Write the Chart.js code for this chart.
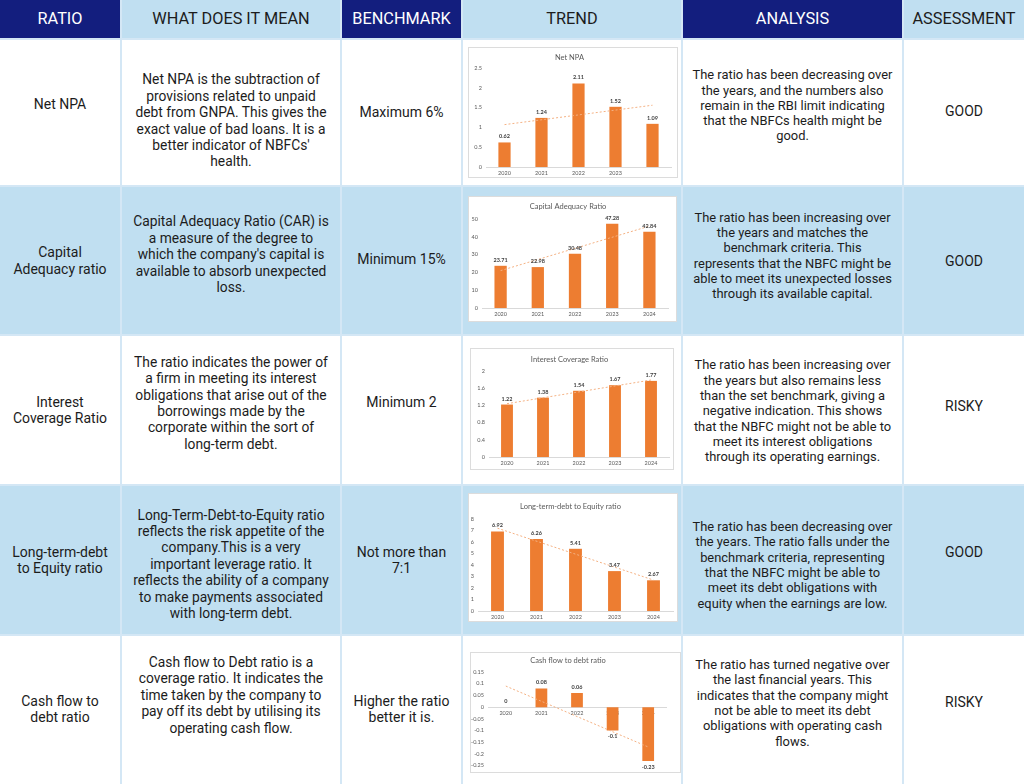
<!DOCTYPE html>
<html>
<head>
<meta charset="utf-8">
<script src="https://cdn.jsdelivr.net/npm/chart.js@4"></script>
<style>
  body { margin: 0; width: 1024px; height: 784px; overflow: hidden; background: #d4e7f5; font-family: Roboto, sans-serif; }
  .cell { position: absolute; display: flex; align-items: center; justify-content: center; text-align: center; color: #1c1c1c; white-space: pre-line; box-sizing: border-box; }
  .cell span { display: block; }
  .navy { background: #131e7e; color: #fff; }
  .light { background: #c0dff1; }
  .white { background: #fff; }
  .box { position: absolute; background: #fff; border: 1px solid #dcdcdc; box-sizing: border-box; }
  .box canvas { position: absolute; left: -1px; top: -1px; }
</style>
</head>
<body>
<script>
// table text
const headers = ['RATIO', 'WHAT DOES IT MEAN', 'BENCHMARK', 'TREND', 'ANALYSIS', 'ASSESSMENT'];
const ratioNames = ['Net NPA', 'Capital\nAdequacy ratio', 'Interest\nCoverage Ratio', 'Long-term-debt\nto Equity ratio', 'Cash flow to\ndebt ratio'];
const meanings = [
  "Net NPA is the subtraction of\nprovisions related to unpaid\ndebt from GNPA. This gives the\nexact value of bad loans. It is a\nbetter indicator of NBFCs'\nhealth.",
  "Capital Adequacy Ratio (CAR) is\na measure of the degree to\nwhich the company's capital is\navailable to absorb unexpected\nloss.",
  "The ratio indicates the power of\na firm in meeting its interest\nobligations that arise out of the\nborrowings made by the\ncorporate within the sort of\nlong-term debt.",
  "Long-Term-Debt-to-Equity ratio\nreflects the risk appetite of the\ncompany.This is a very\nimportant leverage ratio. It\nreflects the ability of a company\nto make payments associated\nwith long-term debt.",
  "Cash flow to Debt ratio is a\ncoverage ratio. It indicates the\ntime taken by the company to\npay off its debt by utilising its\noperating cash flow."
];
const benchmarks = ['Maximum 6%', 'Minimum 15%', 'Minimum 2', 'Not more than\n7:1', 'Higher the ratio\nbetter it is.'];
const analyses = [
  "The ratio has been decreasing over\nthe years, and the numbers also\nremain in the RBI limit indicating\nthat the NBFCs health might be\ngood.",
  "The ratio has been increasing over\nthe years and matches the\nbenchmark criteria. This\nrepresents that the NBFC might be\nable to meet its unexpected losses\nthrough its available capital.",
  "The ratio has been increasing over\nthe years but also remains less\nthan the set benchmark, giving a\nnegative indication. This shows\nthat the NBFC might not be able to\nmeet its interest obligations\nthrough its operating earnings.",
  "The ratio has been decreasing over\nthe years. The ratio falls under the\nbenchmark criteria, representing\nthat the NBFC might be able to\nmeet its debt obligations with\nequity when the earnings are low.",
  "The ratio has turned negative over\nthe last financial years. This\nindicates that the company might\nnot be able to meet its debt\nobligations with operating cash\nflows."
];
const assessments = ['GOOD', 'GOOD', 'RISKY', 'GOOD', 'RISKY'];

// chart data
const years = ['2020', '2021', '2022', '2023', '2024'];
const netNpaYears = ['2020', '2021', '2022', '2023', ''];
const netNpa = [0.62, 1.24, 2.11, 1.52, 1.09];
const netNpaTrend = [1.07, null, null, null, 1.56];
const car = [23.71, 22.98, 30.48, 47.28, 42.84];
const carTrend = [21, null, null, null, 46];
const icr = [1.22, 1.38, 1.54, 1.67, 1.77];
const icrTrend = [1.24, null, null, null, 1.79];
const debtEquity = [6.92, 6.26, 5.41, 3.47, 2.67];
const debtEquityTrend = [7.2, null, null, null, 2.69];
const cashFlowDebt = [0, 0.08, 0.06, -0.1, -0.23];
const cashFlowDebtTrend = [0.09, null, null, null, -0.17];

// layout
const colX = [0, 122, 342, 463, 683, 904, 1026];
const rowY = [0, 40, 187, 336, 486, 636, 786];
const textShift = [
  [-8, 8, 0, 0, -7, -2],
  [0, -6, -1, 0, -5, 0],
  [0, -7, -8, 0, 1, -4],
  [0, 4, 0, 0, 5, -8],
  [-1, -15, -1, 0, -7, -8]
];

function addCell(r, c, text, cls, size, lh) {
  const d = document.createElement('div');
  d.className = 'cell ' + cls;
  d.style.left = colX[c] + 'px';
  d.style.top = rowY[r] + 'px';
  d.style.width = (colX[c + 1] - colX[c] - 2) + 'px';
  d.style.height = (rowY[r + 1] - rowY[r] - 2) + 'px';
  const s = document.createElement('span');
  s.textContent = text;
  s.style.fontSize = size + 'px';
  s.style.lineHeight = lh + 'px';
  if (r > 0) s.style.transform = 'translateY(' + textShift[r - 1][c] + 'px)';
  d.appendChild(s);
  document.body.appendChild(d);
}

headers.forEach((h, c) => addCell(0, c, h, c % 2 === 0 ? 'navy' : 'light', 16.3, 18));
for (let i = 0; i < 5; i++) {
  const bg = i % 2 === 0 ? 'white' : 'light';
  addCell(i + 1, 0, ratioNames[i], bg, 14, 16.5);
  addCell(i + 1, 1, meanings[i], bg, 13.8, 16.4);
  addCell(i + 1, 2, benchmarks[i], bg, 14, 16.5);
  addCell(i + 1, 3, '', bg, 13, 16);
  addCell(i + 1, 4, analyses[i], bg, 12.9, 15.3);
  addCell(i + 1, 5, assessments[i], bg, 14, 16);
}

const charts = [
  { title: 'Net NPA', labels: netNpaYears, values: netNpa, trend: netNpaTrend, min: 0, max: 2.5, step: 0.5,
    box: [468, 47, 210, 131], plot: [486, 68, 671, 167], titleY: 58 },
  { title: 'Capital Adequacy Ratio', labels: years, values: car, trend: carTrend, min: 0, max: 50, step: 5,
    box: [468, 196, 209, 126], plot: [482, 219, 668, 308], titleY: 207 },
  { title: 'Interest Coverage Ratio', labels: years, values: icr, trend: icrTrend, min: 0, max: 2, step: 0.2,
    box: [470, 348, 204, 122], plot: [489, 371, 669, 457], titleY: 360 },
  { title: 'Long-term-debt to Equity ratio', labels: years, values: debtEquity, trend: debtEquityTrend, min: 0, max: 8, step: 1,
    box: [468, 493, 210, 129], plot: [478, 519, 673, 611], titleY: 507 },
  { title: 'Cash flow to debt ratio', labels: years, values: cashFlowDebt, trend: cashFlowDebtTrend, min: -0.25, max: 0.15, step: 0.05,
    box: [470, 652, 211, 121], plot: [488, 672, 666, 766], titleY: 661, zeroAxis: true }
];

const barLabels = {
  id: 'barLabels',
  afterDatasetsDraw(chart) {
    const ctx = chart.ctx;
    chart.data.datasets.forEach((ds, i) => {
      if (ds.type === 'line') return;
      chart.getDatasetMeta(i).data.forEach((bar, j) => {
        const v = ds.data[j];
        ctx.save();
        ctx.font = 'bold 5.5px Lato, sans-serif';
        ctx.fillStyle = '#404040';
        ctx.textAlign = 'center';
        ctx.textBaseline = v < 0 ? 'top' : 'bottom';
        ctx.fillText(String(v), bar.x, v < 0 ? bar.y + 3 : bar.y - 3);
        ctx.restore();
      });
    });
  }
};

charts.forEach(c => {
  const [bx, by, bw, bh] = c.box;
  const [pl, pt, pr, pb] = c.plot;
  const div = document.createElement('div');
  div.className = 'box';
  div.style.left = bx + 'px';
  div.style.top = by + 'px';
  div.style.width = bw + 'px';
  div.style.height = bh + 'px';
  const cv = document.createElement('canvas');
  cv.width = bw;
  cv.height = bh;
  div.appendChild(cv);
  document.body.appendChild(div);

  const titleTop = c.titleY - by - 4.5;
  const titleBottom = (pt - by) - titleTop - 9;
  const xScale = {
    grid: { display: false, drawTicks: false },
    border: { display: true, color: '#d9d9d9' },
    ticks: { color: '#595959', font: { size: 5.5, family: 'Lato' }, padding: 3, maxRotation: 0, autoSkip: false }
  };
  if (c.zeroAxis) {
    xScale.position = { y: 0 };
  } else {
    xScale.afterFit = s => { s.height = by + bh - pb; };
  }

  new Chart(cv, {
    type: 'bar',
    data: {
      labels: c.labels,
      datasets: [{
        type: 'line',
        data: c.trend,
        spanGaps: true,
        borderColor: '#f4b183',
        borderWidth: 1,
        borderDash: [2, 2],
        pointRadius: 0,
        order: 0
      }, {
        data: c.values,
        backgroundColor: '#ed7d31',
        barPercentage: 0.33,
        categoryPercentage: 1,
        order: 1
      }]
    },
    options: {
      responsive: false,
      animation: false,
      layout: { padding: { left: 0, right: bx + bw - pr, top: 0, bottom: c.zeroAxis ? by + bh - pb : 0 } },
      plugins: {
        legend: { display: false },
        tooltip: { enabled: false },
        title: {
          display: true,
          text: c.title,
          color: '#595959',
          font: { size: 7.5, weight: 'normal', family: 'Lato', lineHeight: 1.2 },
          padding: { top: titleTop, bottom: titleBottom }
        }
      },
      scales: {
        x: xScale,
        y: {
          min: c.min,
          max: c.max,
          grid: { display: false, drawTicks: false },
          border: { display: false },
          afterFit: s => { s.width = pl - bx; },
          ticks: {
            stepSize: c.step,
            color: '#595959',
            font: { size: 5.5, family: 'Lato' },
            padding: 4,
            callback: v => String(Math.round(v * 100) / 100)
          }
        }
      }
    },
    plugins: [barLabels]
  });
});
</script>
</body>
</html>
